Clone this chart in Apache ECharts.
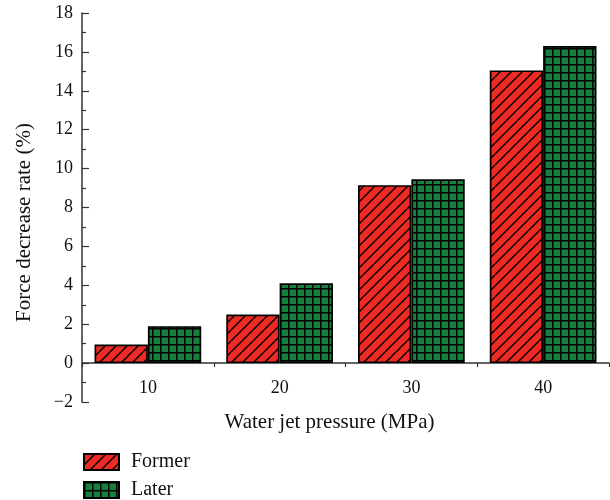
<!DOCTYPE html>
<html>
<head>
<meta charset="utf-8">
<script src="https://cdn.jsdelivr.net/npm/echarts@6/dist/echarts.min.js"></script>
<style>html,body{margin:0;padding:0;background:#fff}#c{width:610px;height:500px}</style>
</head>
<body>
<div id="c"></div>
<script>
var categories = ['10', '20', '30', '40'];
var formerValues = [0.95, 2.5, 9.15, 15.05];
var laterValues = [1.9, 4.1, 9.45, 16.3];
var yTickLabels = [-2, 0, 2, 4, 6, 8, 10, 12, 14, 16, 18];
var seriesNames = ['Former', 'Later'];

function hatchPattern() {
  var s = 11, c = document.createElement('canvas');
  c.width = s; c.height = s;
  var g = c.getContext('2d');
  g.fillStyle = '#ee2a24'; g.fillRect(0, 0, s, s);
  g.strokeStyle = '#000'; g.lineWidth = 1.4;
  for (var k = -1; k <= 1; k++) {
    g.beginPath(); g.moveTo(k * s, s); g.lineTo(k * s + s, 0); g.stroke();
  }
  return c;
}
function gridPattern() {
  var s = 8, c = document.createElement('canvas');
  c.width = s; c.height = s;
  var g = c.getContext('2d');
  g.fillStyle = '#16803f'; g.fillRect(0, 0, s, s);
  g.fillStyle = '#000';
  g.fillRect(0, 0, 1.5, s); g.fillRect(0, 0, s, 1.5);
  return c;
}

var FONT = '"Liberation Serif", "DejaVu Serif", serif';
var GRID_TOP = 13, GRID_BOTTOM = 98, H = 500;
var unitPx = (H - GRID_TOP - GRID_BOTTOM) / 20;
var zeroOffset = -2 * unitPx;

function legendAt(name, top) {
  return {
    orient: 'vertical', left: 83, top: top, padding: 0, icon: 'rect',
    itemWidth: 35, itemHeight: 16,
    textStyle: {fontFamily: FONT, fontSize: 20, lineHeight: 20, color: '#111', padding: [0, 0, 0, 7]},
    data: [name]
  };
}

var chart = echarts.init(document.getElementById('c'), null, {renderer: 'canvas'});
chart.setOption({
  animation: false,
  backgroundColor: '#fff',
  grid: {left: 82, right: 1, top: GRID_TOP, bottom: GRID_BOTTOM, containLabel: false},
  legend: [legendAt(seriesNames[0], 452), legendAt(seriesNames[1], 480)],
  xAxis: [{
    type: 'category', data: categories, position: 'bottom', offset: zeroOffset,
    name: 'Water jet pressure (MPa)', nameLocation: 'middle', nameGap: 49,
    nameTextStyle: {fontFamily: FONT, fontSize: 21, color: '#111', padding: [0, 32, 0, 0]},
    axisLine: {onZero: false, lineStyle: {color: '#333', width: 1.5}},
    axisTick: {alignWithLabel: true, length: 7, lineStyle: {color: '#333', width: 1.2}},
    axisLabel: {fontFamily: FONT, fontSize: 18, color: '#111', margin: 16}
  }, {
    type: 'category', data: categories, position: 'bottom', offset: zeroOffset,
    axisLine: {show: false, onZero: false},
    axisTick: {show: true, length: 4, lineStyle: {color: '#333', width: 1.2}},
    axisLabel: {show: false}
  }],
  yAxis: {
    type: 'value', min: -2, max: 18, interval: 2,
    name: 'Force decrease rate (%)', nameLocation: 'middle', nameGap: 47,
    nameTextStyle: {fontFamily: FONT, fontSize: 21, color: '#111', padding: [0, 30, 0, 0]},
    axisLine: {show: true, lineStyle: {color: '#333', width: 1.5}},
    axisTick: {show: true, inside: true, length: 7, lineStyle: {color: '#333', width: 1.2}},
    minorTick: {show: true, splitNumber: 2, length: 4, lineStyle: {color: '#333', width: 1.2}},
    splitLine: {show: false},
    axisLabel: {fontFamily: FONT, fontSize: 18, color: '#111', margin: 9,
      formatter: function (v) { return yTickLabels.indexOf(v) >= 0 ? (v < 0 ? '\u2212' + Math.abs(v) : String(v)) : ''; }}
  },
  series: [{
    name: seriesNames[0], type: 'bar', data: formerValues, xAxisIndex: 0,
    barGap: '0%', barCategoryGap: '19%',
    itemStyle: {color: {image: hatchPattern(), repeat: 'repeat'}, borderColor: '#000', borderWidth: 1.7}
  }, {
    name: seriesNames[1], type: 'bar', data: laterValues, xAxisIndex: 0,
    barGap: '0%', barCategoryGap: '19%',
    itemStyle: {color: {image: gridPattern(), repeat: 'repeat'}, borderColor: '#000', borderWidth: 1.7}
  }]
});
</script>
</body>
</html>
